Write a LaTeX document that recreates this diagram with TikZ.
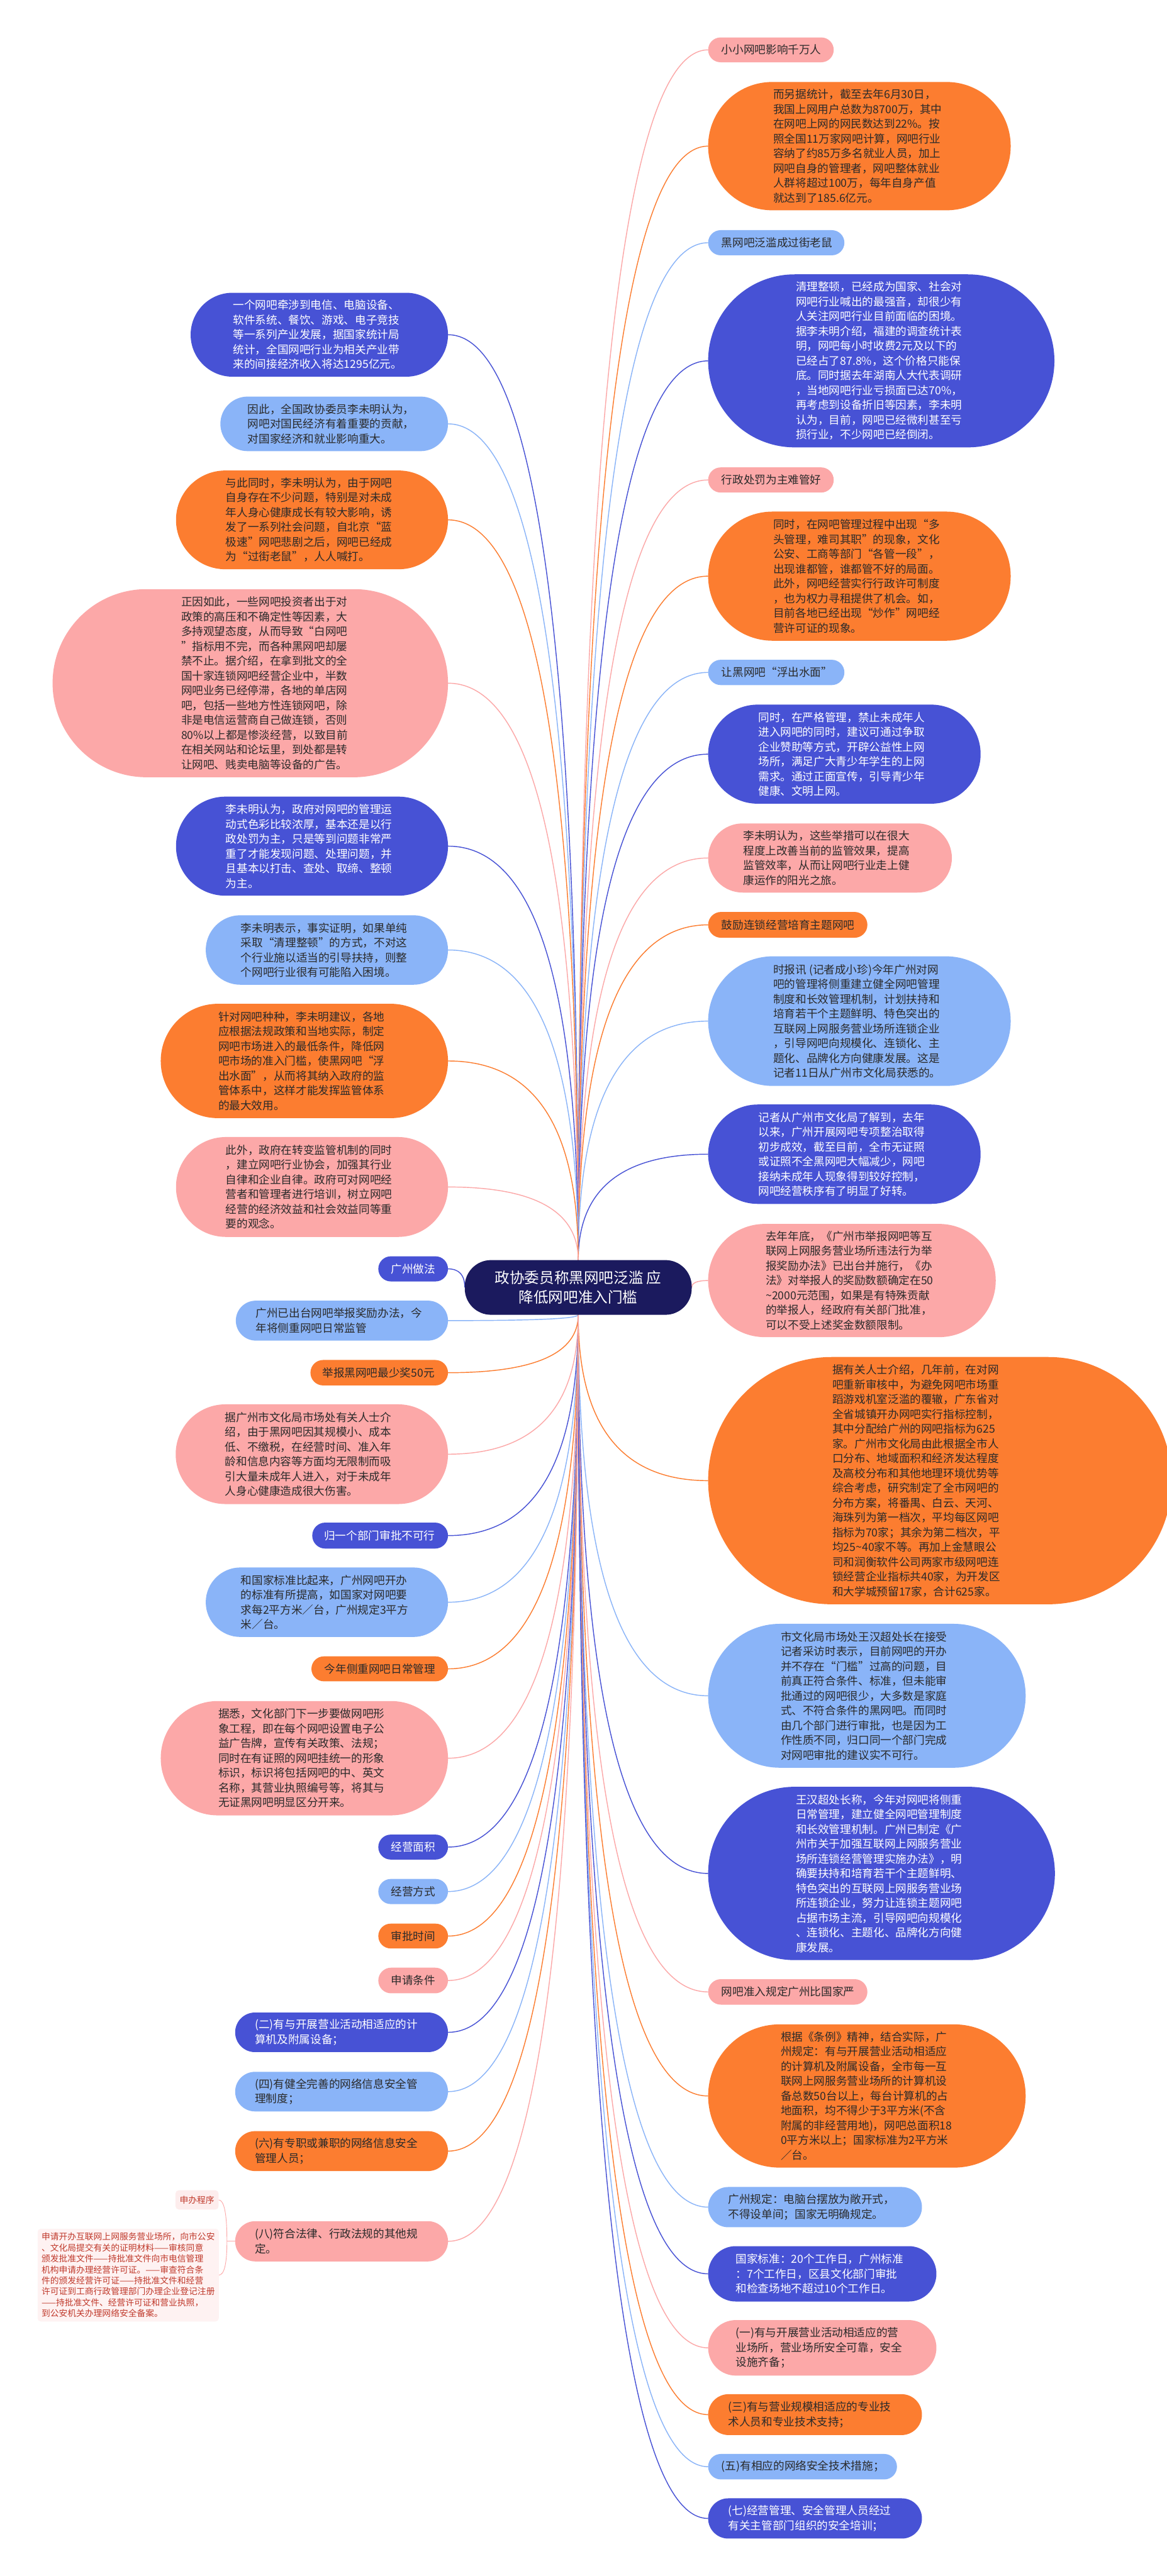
\documentclass[tikz,border=0pt]{standalone}
\usepackage{fontspec}
\setmainfont{Noto Sans CJK SC}
\usetikzlibrary{calc,backgrounds}
\definecolor{mmblue}{HTML}{4752D5}
\definecolor{mmsky}{HTML}{8AB4F8}
\definecolor{mmorange}{HTML}{FC7D30}
\definecolor{mmpink}{HTML}{FCA8A8}
\definecolor{mmnavy}{HTML}{1B1A5E}
\definecolor{mmink}{HTML}{2A2A2A}
\definecolor{procred}{HTML}{C0392B}
\definecolor{procfill}{HTML}{FDEDED}
\newcommand\bubfont{\fontsize{19.2}{25.6}\selectfont}
\newcommand\procfont{\fontsize{15}{19}\selectfont}
\tikzset{
  bubble/.style={draw=none, outer sep=0pt, inner sep=0pt},
  bluebox/.style={bubble, fill=mmblue},
  skybox/.style={bubble, fill=mmsky},
  orangebox/.style={bubble, fill=mmorange},
  pinkbox/.style={bubble, fill=mmpink},
  bubtxt/.style={inner sep=0pt, align=left, font=\bubfont},
  blueboxtxt/.style={bubtxt, text=white},
  skyboxtxt/.style={bubtxt, text=mmink},
  orangeboxtxt/.style={bubtxt, text=mmink},
  pinkboxtxt/.style={bubtxt, text=mmink},
  hub/.style={fill=mmnavy, text=white, outer sep=0pt, align=center, rounded corners=16mm,
    minimum width=138.1mm, minimum height=33.3mm, font=\fontsize{25.7}{34}\selectfont},
  link/.style={line width=0.55mm, to path={.. controls ($(\tikztostart)!0.667!(\tikztostart |- \tikztotarget)$)
    and ($(\tikztotarget)!0.667!(\tikztostart |- \tikztotarget)$) .. (\tikztotarget)}},
  procbox/.style={fill=procfill, text=procred, rounded corners=2mm, outer sep=0pt, inner sep=0pt,
    minimum width=26.2mm, minimum height=11.7mm, font=\procfont},
  procnote/.style={fill=procfill!70, text=procred, rounded corners=2mm, outer sep=0pt, inner sep=2.4mm,
    align=left, font=\procfont}
}
% bubble: name, colour, x1, y1, x2, y2, text x, text
\newcommand\bub[8]{%
  \pgfmathsetmacro\bw{#5-#3}\pgfmathsetmacro\bh{#6-#4}\pgfmathsetmacro\br{min(\bw,\bh)/2-0.01}%
  \node[#2, minimum width=\bw mm, minimum height=\bh mm, rounded corners=\br mm] (#1) at ({(#3+#5)/2},{(#4+#6)/2}) {};
  \node[#2txt, anchor=west] (#1t) at (#7,{(#4+#6)/2}) {#8};}

\begin{document}
\begin{tikzpicture}[x=1mm,y=-1mm]
		%%%%% START %%%%%
		\useasboundingbox (0,0) rectangle (710,1568);
		
		\node[hub] (hub) at (351.85,783.65) {政协委员称黑网吧泛滥 应\\降低网吧准入门槛};
		
		%%%%% right %%%%%
		\bub{r1}{pinkbox}{430.9}{22.8}{507.3}{37.9}{439}{小小网吧影响千万人}
		\bub{r2}{orangebox}{430.9}{49.9}{615}{128}{470.5}{而另据统计，截至去年6月30日，\\我国上网用户总数为8700万，其中\\在网吧上网的网民数达到22\%。按\\照全国11万家网吧计算，网吧行业\\容纳了约85万多名就业人员，加上\\网吧自身的管理者，网吧整体就业\\人群将超过100万，每年自身产值\\就达到了185.6亿元。}
		\bub{r3}{skybox}{430.9}{140.1}{513.8}{155.4}{439}{黑网吧泛滥成过街老鼠}
		\bub{r4}{bluebox}{430.9}{167}{641.6}{272.3}{484.2}{清理整顿，已经成为国家、社会对\\网吧行业喊出的最强音，却很少有\\人关注网吧行业目前面临的困境。\\据李未明介绍，福建的调查统计表\\明，网吧每小时收费2元及以下的\\已经占了87.8\%，这个价格只能保\\底。同时据去年湖南人大代表调研\\，当地网吧行业亏损面已达70\%，\\再考虑到设备折旧等因素，李未明\\认为，目前，网吧已经微利甚至亏\\损行业，不少网吧已经倒闭。}
		\bub{r5}{pinkbox}{430.9}{284.5}{507.3}{299.8}{439}{行政处罚为主难管好}
		\bub{r6}{orangebox}{430.9}{311.4}{615}{390}{470.5}{同时，在网吧管理过程中出现“多\\头管理，难司其职”的现象，文化\\公安、工商等部门“各管一段”，\\出现谁都管，谁都管不好的局面。\\此外，网吧经营实行行政许可制度\\，也为权力寻租提供了机会。如，\\目前各地已经出现“炒作”网吧经\\营许可证的现象。}
		\bub{r7}{skybox}{430.9}{401.6}{513.8}{417}{439}{让黑网吧“浮出水面”}
		\bub{r8}{bluebox}{430.9}{428.9}{596.7}{489.2}{461.4}{同时，在严格管理，禁止未成年人\\进入网吧的同时，建议可通过争取\\企业赞助等方式，开辟公益性上网\\场所，满足广大青少年学生的上网\\需求。通过正面宣传，引导青少年\\健康、文明上网。}
		\bub{r9}{pinkbox}{430.9}{501.2}{579.2}{543.3}{452.2}{李未明认为，这些举措可以在很大\\程度上改善当前的监管效果，提高\\监管效率，从而让网吧行业走上健\\康运作的阳光之旅。}
		\bub{r10}{orangebox}{430.9}{555.1}{527.8}{570.8}{439}{鼓励连锁经营培育主题网吧}
		\bub{r11}{skybox}{430.9}{582.1}{615}{661}{470.5}{时报讯 (记者成小珍)今年广州对网\\吧的管理将侧重建立健全网吧管理\\制度和长效管理机制，计划扶持和\\培育若干个主题鲜明、特色突出的\\互联网上网服务营业场所连锁企业\\，引导网吧向规模化、连锁化、主\\题化、品牌化方向健康发展。这是\\记者11日从广州市文化局获悉的。}
		\bub{r12}{bluebox}{430.9}{672.3}{596.7}{732.8}{461.4}{记者从广州市文化局了解到，去年\\以来，广州开展网吧专项整治取得\\初步成效，截至目前，全市无证照\\或证照不全黑网吧大幅减少，网吧\\接纳未成年人现象得到较好控制，\\网吧经营秩序有了明显了好转。}
		\bub{r13}{pinkbox}{430.9}{745}{605.9}{813.9}{465.9}{去年年底，《广州市举报网吧等互\\联网上网服务营业场所违法行为举\\报奖励办法》已出台并施行，《办\\法》对举报人的奖励数额确定在50\\\textasciitilde 2000元范围，如果是有特殊贡献\\的举报人，经政府有关部门批准，\\可以不受上述奖金数额限制。}
		\bub{r14}{orangebox}{430.9}{826}{713}{976.5}{506.5}{据有关人士介绍，几年前，在对网\\吧重新审核中，为避免网吧市场重\\蹈游戏机室泛滥的覆辙，广东省对\\全省城镇开办网吧实行指标控制，\\其中分配给广州的网吧指标为625\\家。广州市文化局由此根据全市人\\口分布、地域面积和经济发达程度\\及高校分布和其他地理环境优势等\\综合考虑，研究制定了全市网吧的\\分布方案，将番禺、白云、天河、\\海珠列为第一档次，平均每区网吧\\指标为70家；其余为第二档次，平\\均25\textasciitilde 40家不等。再加上金慧眼公\\司和润衡软件公司两家市级网吧连\\锁经营企业指标共40家，为开发区\\和大学城预留17家，合计625家。}
		\bub{r15}{skybox}{430.9}{988.4}{624.1}{1076}{475}{市文化局市场处王汉超处长在接受\\记者采访时表示，目前网吧的开办\\并不存在“门槛”过高的问题，目\\前真正符合条件、标准，但未能审\\批通过的网吧很少，大多数是家庭\\式、不符合条件的黑网吧。而同时\\由几个部门进行审批，也是因为工\\作性质不同，归口同一个部门完成\\对网吧审批的建议实不可行。}
		\bub{r16}{bluebox}{430.9}{1087.6}{641.9}{1193.1}{484.2}{王汉超处长称，今年对网吧将侧重\\日常管理，建立健全网吧管理制度\\和长效管理机制。广州已制定《广\\州市关于加强互联网上网服务营业\\场所连锁经营管理实施办法》，明\\确要扶持和培育若干个主题鲜明、\\特色突出的互联网上网服务营业场\\所连锁企业，努力让连锁主题网吧\\占据市场主流，引导网吧向规模化\\、连锁化、主题化、品牌化方向健\\康发展。}
		\bub{r17}{pinkbox}{430.9}{1204.7}{527.8}{1220.2}{439}{网吧准入规定广州比国家严}
		\bub{r18}{orangebox}{430.9}{1232.2}{624.1}{1319.4}{475}{根据《条例》精神，结合实际，广\\州规定：有与开展营业活动相适应\\的计算机及附属设备，全市每一互\\联网上网服务营业场所的计算机设\\备总数50台以上，每台计算机的占\\地面积，均不得少于3平方米(不含\\附属的非经营用地)，网吧总面积18\\0平方米以上；国家标准为2平方米\\／台。}
		\bub{r19}{skybox}{430.9}{1331.2}{561}{1355.7}{443.1}{广州规定：电脑台摆放为敞开式，\\不得设单间；国家无明确规定。}
		\bub{r20}{bluebox}{430.9}{1367.2}{569.8}{1400.9}{447.7}{国家标准：20个工作日，广州标准\\：7个工作日，区县文化部门审批\\和检查场地不超过10个工作日。}
		\bub{r21}{pinkbox}{430.9}{1412.2}{569.8}{1446}{447.7}{(一)有与开展营业活动相适应的营\\业场所，营业场所安全可靠，安全\\设施齐备；}
		\bub{r22}{orangebox}{430.9}{1457.3}{561}{1482.2}{443.1}{(三)有与营业规模相适应的专业技\\术人员和专业技术支持；}
		\bub{r23}{skybox}{430.9}{1493.7}{545.8}{1509.2}{439}{(五)有相应的网络安全技术措施；}
		\bub{r24}{bluebox}{430.9}{1520.7}{561}{1545.2}{443.1}{(七)经营管理、安全管理人员经过\\有关主管部门组织的安全培训；}
		
		%%%%% left %%%%%
		\bub{l1}{bluebox}{116}{178.2}{272.6}{229.3}{141.8}{一个网吧牵涉到电信、电脑设备、\\软件系统、餐饮、游戏、电子竞技\\等一系列产业发展，据国家统计局\\统计，全国网吧行业为相关产业带\\来的间接经济收入将达1295亿元。}
		\bub{l2}{skybox}{134.1}{241.4}{272.6}{274.6}{150.7}{因此，全国政协委员李未明认为，\\网吧对国民经济有着重要的贡献，\\对国家经济和就业影响重大。}
		\bub{l3}{orangebox}{107.1}{286.4}{272.6}{346.5}{137.3}{与此同时，李未明认为，由于网吧\\自身存在不少问题，特别是对未成\\年人身心健康成长有较大影响，诱\\发了一系列社会问题，自北京“蓝\\极速”网吧悲剧之后，网吧已经成\\为“过街老鼠”，人人喊打。}
		\bub{l4}{pinkbox}{32}{358.6}{272.6}{473.1}{110.2}{正因如此，一些网吧投资者出于对\\政策的高压和不确定性等因素，大\\多持观望态度，从而导致“白网吧\\”指标用不完，而各种黑网吧却屡\\禁不止。据介绍，在拿到批文的全\\国十家连锁网吧经营企业中，半数\\网吧业务已经停滞，各地的单店网\\吧，包括一些地方性连锁网吧，除\\非是电信运营商自己做连锁，否则\\80\%以上都是惨淡经营，以致目前\\在相关网站和论坛里，到处都是转\\让网吧、贱卖电脑等设备的广告。}
		\bub{l5}{bluebox}{107.1}{484.9}{272.6}{545.2}{137.3}{李未明认为，政府对网吧的管理运\\动式色彩比较浓厚，基本还是以行\\政处罚为主，只是等到问题非常严\\重了才能发现问题、处理问题，并\\且基本以打击、查处、取缔、整顿\\为主。}
		\bub{l6}{skybox}{125.2}{557.1}{272.6}{599.4}{146.5}{李未明表示，事实证明，如果单纯\\采取“清理整顿”的方式，不对这\\个行业施以适当的引导扶持，则整\\个网吧行业很有可能陷入困境。}
		\bub{l7}{orangebox}{97.8}{611}{272.6}{680.6}{132.8}{针对网吧种种，李未明建议，各地\\应根据法规政策和当地实际，制定\\网吧市场进入的最低条件，降低网\\吧市场的准入门槛，使黑网吧“浮\\出水面”，从而将其纳入政府的监\\管体系中，这样才能发挥监管体系\\的最大效用。}
		\bub{l8}{pinkbox}{107.1}{692.1}{272.6}{752.9}{137.3}{此外，政府在转变监管机制的同时\\，建立网吧行业协会，加强其行业\\自律和企业自律。政府可对网吧经\\营者和管理者进行培训，树立网吧\\经营的经济效益和社会效益同等重\\要的观念。}
		\bub{l9}{bluebox}{230.2}{764.7}{272.6}{780}{237.9}{广州做法}
		\bub{l10}{skybox}{143.5}{791.7}{272.6}{816}{155.6}{广州已出台网吧举报奖励办法，今\\年将侧重网吧日常监管}
		\bub{l11}{orangebox}{188.9}{827.8}{272.6}{843.3}{196.1}{举报黑网吧最少奖50元}
		\bub{l12}{pinkbox}{106.9}{854.8}{272.6}{915.5}{136.9}{据广州市文化局市场处有关人士介\\绍，由于黑网吧因其规模小、成本\\低、不缴税，在经营时间、准入年\\龄和信息内容等方面均无限制而吸\\引大量未成年人进入，对于未成年\\人身心健康造成很大伤害。}
		\bub{l13}{bluebox}{190}{926.8}{272.6}{942.6}{197.2}{归一个部门审批不可行}
		\bub{l14}{skybox}{125.2}{954.1}{272.6}{996.4}{146.5}{和国家标准比起来，广州网吧开办\\的标准有所提高，如国家对网吧要\\求每2平方米／台，广州规定3平方\\米／台。}
		\bub{l15}{orangebox}{189.5}{1008.2}{272.6}{1023.4}{197.4}{今年侧重网吧日常管理}
		\bub{l16}{pinkbox}{97.8}{1035.4}{272.6}{1105}{132.8}{据悉，文化部门下一步要做网吧形\\象工程，即在每个网吧设置电子公\\益广告牌，宣传有关政策、法规；\\同时在有证照的网吧挂统一的形象\\标识，标识将包括网吧的中、英文\\名称，其营业执照编号等，将其与\\无证黑网吧明显区分开来。}
		\bub{l17}{bluebox}{230.2}{1116.7}{272.6}{1131.9}{237.9}{经营面积}
		\bub{l18}{skybox}{230.2}{1143.7}{272.6}{1159}{237.9}{经营方式}
		\bub{l19}{orangebox}{230.2}{1170.9}{272.6}{1186}{237.9}{审批时间}
		\bub{l20}{pinkbox}{230.2}{1197.7}{272.6}{1213.3}{237.9}{申请条件}
		\bub{l21}{bluebox}{143.1}{1225}{272.6}{1249.1}{155.1}{(二)有与开展营业活动相适应的计\\算机及附属设备；}
		\bub{l22}{skybox}{143.1}{1261.1}{272.6}{1285.2}{155.1}{(四)有健全完善的网络信息安全管\\理制度；}
		\bub{l23}{orangebox}{143.1}{1297.2}{272.6}{1321.5}{155.1}{(六)有专职或兼职的网络信息安全\\管理人员；}
		\bub{l24}{pinkbox}{143.1}{1352}{272.6}{1376.5}{155.1}{(八)符合法律、行政法规的其他规\\定。}
		
		\node[procbox] (proc) at (119.9,1339.05) {申办程序};
		\node[procnote, anchor=north west] (procnote) at (22.9,1356.6) {申请开办互联网上网服务营业场所，向市公安\\、文化局提交有关的证明材料——审核同意\\颁发批准文件——持批准文件向市电信管理\\机构申请办理经营许可证。——审查符合条\\件的颁发经营许可证——持批准文件和经营\\许可证到工商行政管理部门办理企业登记注册\\——持批准文件、经营许可证和营业执照，\\到公安机关办理网络安全备案。};
		\coordinate (l24k) at ([xshift=-5mm]l24.west);
		
		\begin{scope}[on background layer]
		\fill[white] (0,0) rectangle (710,1568);
		
		\draw[link, draw=mmpink] (hub.north) to (r1.west);
		\draw[link, draw=mmorange] (hub.north) to (r2.west);
		\draw[link, draw=mmsky] (hub.north) to (r3.west);
		\draw[link, draw=mmblue] (hub.north) to (r4.west);
		\draw[link, draw=mmpink] (hub.north) to (r5.west);
		\draw[link, draw=mmorange] (hub.north) to (r6.west);
		\draw[link, draw=mmsky] (hub.north) to (r7.west);
		\draw[link, draw=mmblue] (hub.north) to (r8.west);
		\draw[link, draw=mmpink] (hub.north) to (r9.west);
		\draw[link, draw=mmorange] (hub.north) to (r10.west);
		\draw[link, draw=mmsky] (hub.north) to (r11.west);
		\draw[link, draw=mmblue] (hub.north) to (r12.west);
		\draw[link, draw=mmpink] (hub.east) to (r13.west);
		\draw[link, draw=mmorange] (hub.south) to (r14.west);
		\draw[link, draw=mmsky] (hub.south) to (r15.west);
		\draw[link, draw=mmblue] (hub.south) to (r16.west);
		\draw[link, draw=mmpink] (hub.south) to (r17.west);
		\draw[link, draw=mmorange] (hub.south) to (r18.west);
		\draw[link, draw=mmsky] (hub.south) to (r19.west);
		\draw[link, draw=mmblue] (hub.south) to (r20.west);
		\draw[link, draw=mmpink] (hub.south) to (r21.west);
		\draw[link, draw=mmorange] (hub.south) to (r22.west);
		\draw[link, draw=mmsky] (hub.south) to (r23.west);
		\draw[link, draw=mmblue] (hub.south) to (r24.west);
		
		\draw[link, draw=mmblue] (hub.north) to (l1.east);
		\draw[link, draw=mmsky] (hub.north) to (l2.east);
		\draw[link, draw=mmorange] (hub.north) to (l3.east);
		\draw[link, draw=mmpink] (hub.north) to (l4.east);
		\draw[link, draw=mmblue] (hub.north) to (l5.east);
		\draw[link, draw=mmsky] (hub.north) to (l6.east);
		\draw[link, draw=mmorange] (hub.north) to (l7.east);
		\draw[link, draw=mmpink] (hub.north) to (l8.east);
		\draw[link, draw=mmblue] (hub.west) to (l9.east);
		\draw[link, draw=mmsky] (hub.south) to (l10.east);
		\draw[link, draw=mmorange] (hub.south) to (l11.east);
		\draw[link, draw=mmpink] (hub.south) to (l12.east);
		\draw[link, draw=mmblue] (hub.south) to (l13.east);
		\draw[link, draw=mmsky] (hub.south) to (l14.east);
		\draw[link, draw=mmorange] (hub.south) to (l15.east);
		\draw[link, draw=mmpink] (hub.south) to (l16.east);
		\draw[link, draw=mmblue] (hub.south) to (l17.east);
		\draw[link, draw=mmsky] (hub.south) to (l18.east);
		\draw[link, draw=mmorange] (hub.south) to (l19.east);
		\draw[link, draw=mmpink] (hub.south) to (l20.east);
		\draw[link, draw=mmblue] (hub.south) to (l21.east);
		\draw[link, draw=mmsky] (hub.south) to (l22.east);
		\draw[link, draw=mmorange] (hub.south) to (l23.east);
		\draw[link, draw=mmpink] (hub.south) to (l24.east);
		
		\draw[draw=mmpink, line width=0.35mm] (l24.west) -- (l24k);
		\draw[link, draw=mmpink, line width=0.35mm] (l24k) to (proc.east);
		\draw[link, draw=mmpink, line width=0.35mm] (l24k) to (procnote.east);
		\end{scope}
		%%%%% END %%%%%
\end{tikzpicture}
\end{document}
